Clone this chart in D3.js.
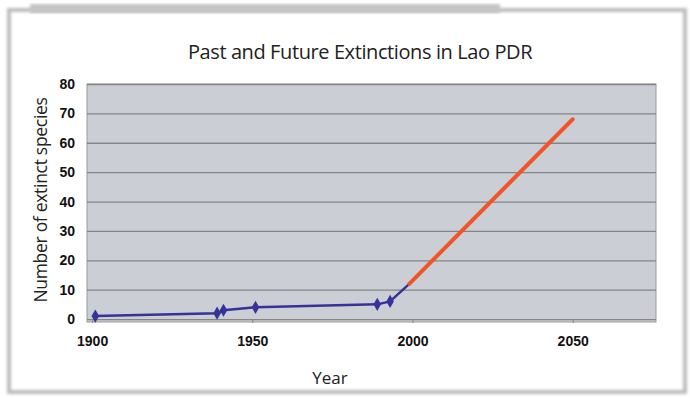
<!DOCTYPE html>
<html>
<head>
<meta charset="utf-8">
<script src="https://cdn.jsdelivr.net/npm/d3@7"></script>
<style>
  body { margin: 0; background: #fff; }
  svg { display: block; }
</style>
</head>
<body>
<div id="chart"></div>
<script>
// observed extinctions (blue) and projection (orange)
var pastYears = [1901, 1939, 1941, 1951, 1989, 1993, 1999];
var pastCounts = [1, 2, 3, 4, 5, 6, 12];
var futureYears = [1999, 2050];
var futureCounts = [12, 68];

var xTicks = [1900, 1950, 2000, 2050];
var yTicks = [0, 10, 20, 30, 40, 50, 60, 70, 80];

var W = 690, H = 398;
var margin = {top: 84, right: 34, bottom: 76, left: 87};
var width = W - margin.left - margin.right,
    height = H - margin.top - margin.bottom;

var svg = d3.select("#chart")
    .append("svg")
    .attr("width", W)
    .attr("height", H);

// rough paper frame
var defs = svg.append("defs");
defs.append("filter").attr("id", "blur")
    .append("feGaussianBlur").attr("stdDeviation", 1.5);
svg.append("rect")
    .attr("x", 9).attr("y", 10)
    .attr("width", W - 14).attr("height", H - 16)
    .attr("fill", "none")
    .attr("stroke", "#bcbcbc")
    .attr("stroke-width", 4)
    .attr("filter", "url(#blur)");
svg.append("rect")
    .attr("x", 30).attr("y", 4)
    .attr("width", 470).attr("height", 9)
    .attr("fill", "#c4c4c4")
    .attr("filter", "url(#blur)");

svg.append("text")
    .attr("x", 360).attr("y", 59)
    .attr("text-anchor", "middle")
    .style("font-family", "'Open Sans', sans-serif")
    .style("font-size", "20px")
    .style("letter-spacing", "-0.4px")
    .attr("fill", "#222")
    .text("Past and Future Extinctions in Lao PDR");

var g = svg.append("g")
    .attr("transform", "translate(" + margin.left + "," + margin.top + ")");

var x = d3.scaleLinear()
    .domain([1898.4, 2076])
    .range([0, width]);

var y = d3.scaleLinear()
    .domain([-1, 80])
    .range([height, 0]);

g.append("rect")
    .attr("width", width).attr("height", height)
    .attr("fill", "#cbced5")
    .attr("stroke", "#9a9a9a");

// gridlines
g.append("g")
    .call(d3.axisLeft(y).tickValues(yTicks).tickSize(-width).tickFormat(""))
    .call(function(s) {
        s.select(".domain").remove();
        s.selectAll("line").attr("stroke", "#858585").attr("stroke-width", 1.3);
    });

// y labels
g.append("g")
    .call(d3.axisLeft(y).tickValues(yTicks).tickSize(0).tickPadding(12))
    .call(function(s) {
        s.select(".domain").remove();
        s.selectAll("text")
            .style("font-family", "'Liberation Sans', Arial, sans-serif")
            .style("font-weight", "bold")
            .style("font-size", "14px")
            .attr("fill", "#111");
    });

// x axis
g.append("g")
    .attr("transform", "translate(0," + y(0) + ")")
    .call(d3.axisBottom(x).tickValues(xTicks).tickSize(4).tickPadding(13).tickFormat(d3.format("d")))
    .call(function(s) {
        s.select(".domain").remove();
        s.selectAll("line").attr("stroke", "#888");
        s.selectAll("text")
            .style("font-family", "'Liberation Sans', Arial, sans-serif")
            .style("font-weight", "bold")
            .style("font-size", "14px")
            .attr("fill", "#111");
    });

var past = pastYears.map(function(d, i) { return [d, pastCounts[i]]; });
var future = futureYears.map(function(d, i) { return [d, futureCounts[i]]; });

var line = d3.line()
    .x(function(d) { return x(d[0]); })
    .y(function(d) { return y(d[1]); });

g.append("path")
    .datum(past)
    .attr("d", line)
    .attr("fill", "none")
    .attr("stroke", "#353399")
    .attr("stroke-width", 2.5);

g.selectAll(".pt")
    .data(past.slice(0, -1))
    .enter()
    .append("path")
    .attr("class", "pt")
    .attr("transform", function(d) { return "translate(" + x(d[0]) + "," + y(d[1]) + ")"; })
    .attr("d", d3.symbol().type(d3.symbolDiamond).size(50))
    .attr("fill", "#353399");

g.append("path")
    .datum(future)
    .attr("d", line)
    .attr("fill", "none")
    .attr("stroke", "#f0552a")
    .attr("stroke-width", 4)
    .attr("stroke-linecap", "round");

// axis titles
svg.append("text")
    .attr("transform", "translate(47,200) rotate(-90)")
    .attr("text-anchor", "middle")
    .style("font-family", "'Open Sans', sans-serif")
    .style("font-size", "17.5px")
    .style("letter-spacing", "-0.3px")
    .attr("fill", "#222")
    .text("Number of extinct species");

svg.append("text")
    .attr("x", 330).attr("y", 384)
    .attr("text-anchor", "middle")
    .style("font-family", "'Open Sans', sans-serif")
    .style("font-size", "17px")
    .attr("fill", "#222")
    .text("Year");
</script>
</body>
</html>
